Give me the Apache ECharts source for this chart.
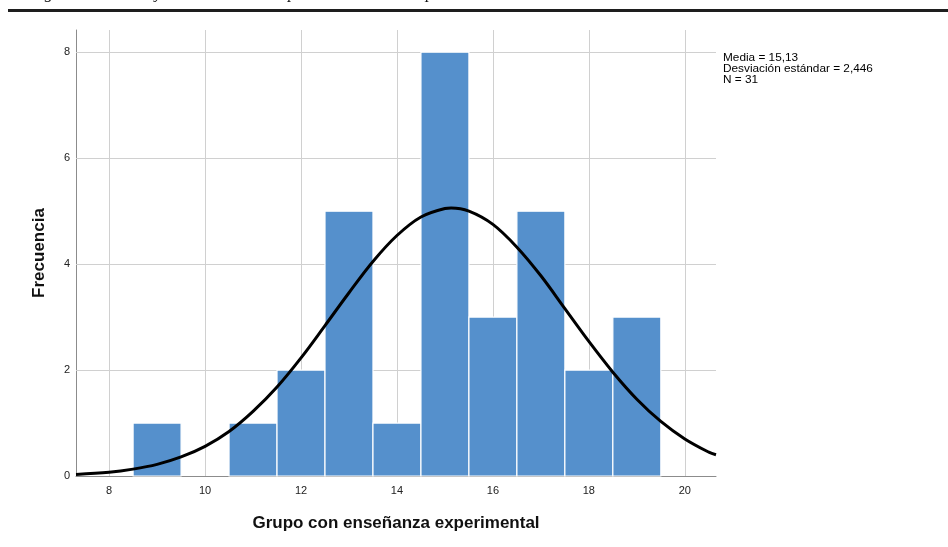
<!DOCTYPE html>
<html>
<head>
<meta charset="utf-8">
<script src="https://cdn.jsdelivr.net/npm/echarts@6/dist/echarts.min.js"></script>
<style>html,body{margin:0;padding:0;background:#fff}#c{width:948px;height:547px}</style>
</head>
<body>
<div id="c"></div>
<script>
// ---- data ----
const binCenters = [9, 10, 11, 12, 13, 14, 15, 16, 17, 18, 19];
const frequencies = [1, 0, 1, 2, 5, 1, 8, 3, 5, 2, 3];
const curveX = [7.31, 8, 8.5, 9, 9.5, 10, 10.5, 11, 11.5, 12, 12.5, 13, 13.5, 14, 14.5, 15, 15.13, 15.5, 16, 16.5, 17, 17.5, 18, 18.5, 19, 19.5, 20, 20.5, 20.65];
const curveY = [0.03, 0.07, 0.13, 0.22, 0.36, 0.56, 0.84, 1.22, 1.68, 2.23, 2.84, 3.46, 4.05, 4.54, 4.89, 5.05, 5.06, 5.0, 4.75, 4.32, 3.78, 3.16, 2.54, 1.96, 1.45, 1.03, 0.7, 0.45, 0.4];
const xTicks = [8, 10, 12, 14, 16, 18, 20];
const yTicks = [0, 2, 4, 6, 8];
const yGrid = [2, 4, 6, 8];
const statsLines = ['Media = 15,13', 'Desviación estándar = 2,446', 'N = 31'];
const xTitle = 'Grupo con enseñanza experimental';
const yTitle = 'Frecuencia';
const caption = 'Histograma de notas y curva normal del postest en el aula experimental';

const chart = echarts.init(document.getElementById('c'));
const FONT = 'Liberation Sans, Arial, sans-serif';

chart.setOption({
  animation: false,
  backgroundColor: '#fff',
  grid: { left: 76, right: 232, top: 30, bottom: 71 },
  xAxis: {
    type: 'value', min: 7.31, max: 20.65,
    name: xTitle, nameLocation: 'middle', nameGap: 39,
    nameTextStyle: { fontFamily: FONT, fontSize: 17, fontWeight: 'bold', color: '#111' },
    axisLine: { show: true, lineStyle: { color: '#8c8c8c', width: 1 } },
    axisTick: { show: false },
    splitLine: { show: false },
    axisLabel: { customValues: xTicks, fontFamily: FONT, fontSize: 11, color: '#222', margin: 9 }
  },
  yAxis: {
    type: 'value', min: 0, max: 8.42,
    name: yTitle, nameLocation: 'middle', nameGap: 28, nameRotate: 90,
    nameTextStyle: { fontFamily: FONT, fontSize: 17, fontWeight: 'bold', color: '#111' },
    axisLine: { show: true, lineStyle: { color: '#8c8c8c', width: 1 } },
    axisTick: { show: false },
    splitLine: { show: false },
    axisLabel: { customValues: yTicks, fontFamily: FONT, fontSize: 11, color: '#222', margin: 6 }
  },
  series: [
    {
      type: 'line', data: [], z: 1, silent: true,
      markLine: {
        z: 1, silent: true, symbol: 'none', animation: false,
        label: { show: false },
        lineStyle: { color: '#d0d0d0', type: 'solid', width: 1 },
        data: xTicks.map(v => ({ xAxis: v })).concat(yGrid.map(v => ({ yAxis: v })))
      }
    },
    {
      type: 'custom', z: 3,
      data: binCenters.map((c, i) => [c, frequencies[i]]),
      renderItem: function (params, api) {
        const c = api.value(0), v = api.value(1);
        if (!v) return null;
        const p0 = api.coord([c - 0.5, v]);
        const p1 = api.coord([c + 0.5, 0]);
        return {
          type: 'rect',
          shape: { x: p0[0], y: p0[1], width: p1[0] - p0[0], height: p1[1] - p0[1] },
          style: { fill: '#5590cc', stroke: '#ffffff', lineWidth: 1.2 }
        };
      }
    },
    {
      type: 'line', z: 4, smooth: 0.35, symbol: 'none',
      data: curveX.map((x, i) => [x, curveY[i]]),
      lineStyle: { color: '#000', width: 3 }
    }
  ],
  graphic: [
    { type: 'rect', shape: { x: 8, y: 9, width: 940, height: 3 }, style: { fill: '#1e1e1e' } },
    { type: 'text', x: 8, y: -15, style: { text: caption, font: 'italic 17px "Liberation Serif", serif', fill: '#111' } },
    { type: 'text', left: 723, top: 52, style: { text: statsLines.join('\n'), font: '11.8px "Liberation Sans", Arial, sans-serif', lineHeight: 10.7, fill: '#000' } }
  ]
});
</script>
</body>
</html>
